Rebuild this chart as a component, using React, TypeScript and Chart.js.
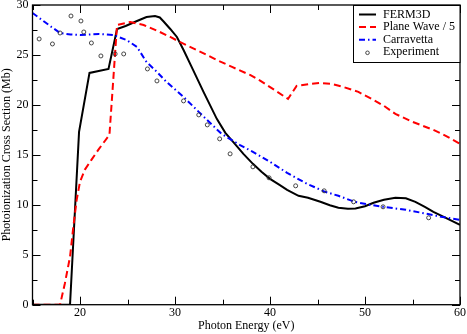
import React, { useEffect, useRef } from 'react';
import { Chart, registerables } from 'chart.js';

Chart.register(...registerables);

const FONT = '"Liberation Serif", "Times New Roman", serif';

// FERM3D
const fermEnergy = [15, 18.95, 19.9, 21, 23, 23.9, 24.8, 26, 27, 27.9, 28.4, 28.8, 29.5, 30.2, 30.9, 31.9, 33, 34.4, 35.3, 36.3, 37.2, 38.2, 39.1, 40, 41, 41.8, 43, 44, 45.3, 46.3, 47.2, 48.2, 49, 50, 50.9, 52, 53.2, 54.3, 55.3, 56.3, 57.2, 58.5, 60];
const fermCross = [0, 0, 17.3, 23.2, 23.6, 27.6, 27.9, 28.4, 28.8, 28.9, 28.75, 28.35, 27.6, 26.8, 25.5, 23.5, 21.3, 18.6, 17.2, 16.1, 15.1, 14.1, 13.3, 12.6, 12.0, 11.5, 10.9, 10.7, 10.3, 9.95, 9.7, 9.6, 9.62, 9.85, 10.2, 10.5, 10.7, 10.65, 10.3, 9.8, 9.3, 8.7, 8.0];

// Plane Wave / 5
const pwEnergy = [15, 17.9, 18.4, 18.95, 19.3, 19.65, 20, 20.5, 21.2, 22, 23.1, 23.9, 25.3, 26.7, 28.4, 29.5, 30.5, 32.5, 34.4, 36, 37.9, 39, 40.3, 41.9, 42.8, 44.2, 45.3, 46.5, 47.7, 49.3, 50.9, 52, 53.2, 55, 57.2, 58.5, 60];
const pwCross = [0, 0, 2.1, 4.8, 7.8, 10.5, 12.3, 13.5, 14.5, 15.6, 17.0, 28.0, 28.3, 28.0, 27.3, 26.8, 26.3, 25.4, 24.5, 23.8, 23.0, 22.4, 21.6, 20.6, 21.9, 22.1, 22.2, 22.1, 21.8, 21.3, 20.5, 19.9, 19.1, 18.3, 17.5, 16.9, 16.1];

// Carravetta
const carEnergy = [15, 16, 17, 17.9, 19, 20, 22, 23.5, 24.9, 26, 27, 28.1, 29.1, 30.9, 32.5, 34.9, 36.8, 38.2, 40, 41.8, 43.9, 45.8, 47.2, 48.9, 50.5, 51.9, 54.3, 56.5, 58, 60];
const carCross = [29.2, 28.5, 27.8, 27.2, 27.05, 27.0, 27.1, 27.0, 26.5, 25.8, 24.3, 23.3, 22.3, 20.8, 19.3, 17.1, 16.0, 15.3, 14.3, 13.2, 12.1, 11.3, 10.9, 10.3, 10.0, 9.8, 9.5, 9.1, 8.8, 8.5];

// Experiment
const expEnergy = [15.7, 17.1, 17.9, 19.05, 20.1, 20.4, 21.2, 22.2, 23.7, 24.6, 27.1, 28.1, 30.9, 32.5, 33.4, 34.7, 35.8, 38.2, 39.9, 42.7, 45.7, 48.8, 51.9, 56.7];
const expCross = [26.6, 26.1, 27.2, 28.9, 28.4, 27.3, 26.2, 24.9, 25.1, 25.1, 23.6, 22.4, 20.4, 19.0, 18.0, 16.6, 15.1, 13.8, 12.7, 11.9, 11.4, 10.3, 9.8, 8.7];

const labels = ['FERM3D', 'Plane Wave / 5', 'Carravetta', 'Experiment'];
const xTitle = 'Photon Energy (eV)';
const yTitle = 'Photoionization Cross Section (Mb)';
const xRange = [15, 60];
const yRange = [0, 30];

const zip = (xs: number[], ys: number[]) => xs.map((x, i) => ({ x, y: ys[i] }));

const frameTicks = {
  id: 'frameTicks',
  afterDatasetsDraw(chart: any) {
    const { ctx, chartArea: a, scales } = chart;
    const xs = scales.x;
    const ys = scales.y;
    ctx.save();
    ctx.strokeStyle = '#000';
    ctx.lineWidth = 1;
    const seg = (x1: number, y1: number, x2: number, y2: number) => {
      ctx.beginPath();
      ctx.moveTo(x1, y1);
      ctx.lineTo(x2, y2);
      ctx.stroke();
    };
    xs.ticks.forEach((t: any) => {
      const p = Math.round(xs.getPixelForValue(t.value)) + 0.5;
      const len = t.value % 10 === 0 ? 8 : 5;
      seg(p, a.bottom, p, a.bottom - len);
      seg(p, a.top, p, a.top + len);
    });
    ys.ticks.forEach((t: any) => {
      const p = Math.round(ys.getPixelForValue(t.value)) + 0.5;
      const len = t.value % 5 === 0 ? 8 : 5;
      seg(a.left, p, a.left + len, p);
      seg(a.right, p, a.right - len, p);
    });
    ctx.lineWidth = 1.3;
    ctx.strokeRect(a.left, a.top, a.right - a.left, a.bottom - a.top);
    ctx.restore();
  },
  afterDraw(chart: any) {
    const { ctx, chartArea: a } = chart;
    const left = 353;
    const top = a.top;
    const right = a.right;
    const bottom = 62;
    ctx.save();
    ctx.fillStyle = '#fff';
    ctx.fillRect(left, top, right - left, bottom - top);
    ctx.strokeStyle = '#000';
    ctx.lineWidth = 1;
    ctx.strokeRect(left + 0.5, top + 0.5, right - left - 0.5, bottom - top);
    ctx.font = `12px ${FONT}`;
    ctx.textBaseline = 'middle';
    ctx.textAlign = 'left';
    chart.data.datasets.forEach((ds: any, i: number) => {
      const y = top + 9.5 + i * 12.6;
      if (ds.showLine === false) {
        ctx.beginPath();
        ctx.setLineDash([]);
        ctx.lineWidth = 0.9;
        ctx.strokeStyle = ds.borderColor;
        ctx.arc(367.5, y + 0.5, 1.8, 0, Math.PI * 2);
        ctx.stroke();
      } else {
        ctx.beginPath();
        ctx.setLineDash(ds.borderDash || []);
        ctx.lineWidth = ds.borderWidth;
        ctx.strokeStyle = ds.borderColor;
        ctx.moveTo(359, y);
        ctx.lineTo(376, y);
        ctx.stroke();
      }
      ctx.setLineDash([]);
      ctx.fillStyle = '#000';
      ctx.fillText(ds.label, 383, y);
    });
    ctx.restore();
  },
};

export default function App() {
  const ref = useRef<HTMLCanvasElement | null>(null);
  useEffect(() => {
    if (!ref.current) return;
    const chart = new Chart(ref.current, {
      type: 'scatter',
      data: {
        datasets: [
          {
            label: labels[0],
            data: zip(fermEnergy, fermCross),
            showLine: true,
            borderColor: '#000000',
            backgroundColor: '#000000',
            borderWidth: 2,
            pointRadius: 0,
            tension: 0,
            order: 4,
          },
          {
            label: labels[1],
            data: zip(pwEnergy, pwCross),
            showLine: true,
            borderColor: '#ff0000',
            backgroundColor: '#ff0000',
            borderWidth: 2,
            borderDash: [7, 4],
            pointRadius: 0,
            tension: 0,
            order: 3,
          },
          {
            label: labels[2],
            data: zip(carEnergy, carCross),
            showLine: true,
            borderColor: '#0000ff',
            backgroundColor: '#0000ff',
            borderWidth: 2,
            borderDash: [6, 3, 1.5, 3],
            pointRadius: 0,
            tension: 0,
            order: 2,
          },
          {
            label: labels[3],
            data: zip(expEnergy, expCross),
            showLine: false,
            borderColor: '#333333',
            backgroundColor: 'rgba(0,0,0,0)',
            borderWidth: 0.9,
            pointRadius: 2,
            pointStyle: 'circle',
            order: 1,
          },
        ],
      } as any,
      options: {
        animation: false,
        responsive: false,
        devicePixelRatio: 1,
        layout: { padding: { top: 5, right: 7, left: 0, bottom: 0 } },
        plugins: { legend: { display: false }, tooltip: { enabled: false } },
        scales: {
          x: {
            type: 'linear',
            min: xRange[0],
            max: xRange[1],
            position: 'bottom',
            afterFit: (s: any) => {
              s.height = 29.3;
              s.paddingLeft = 0;
              s.paddingRight = 0;
            },
            ticks: {
              stepSize: 5,
              autoSkip: false,
              maxRotation: 0,
              color: '#000',
              padding: 1,
              font: { family: FONT, size: 12 },
              callback: (v: any) => (v % 10 === 0 ? String(v) : ''),
            },
            grid: { display: false, drawTicks: false },
            border: { display: false },
            title: {
              display: true,
              text: xTitle,
              color: '#000',
              font: { family: FONT, size: 12 },
              padding: { top: 0, bottom: 1 },
            },
          },
          y: {
            type: 'linear',
            min: yRange[0],
            max: yRange[1],
            afterFit: (s: any) => {
              s.width = 32.5;
              s.paddingTop = 0;
              s.paddingBottom = 0;
            },
            ticks: {
              stepSize: 2.5,
              autoSkip: false,
              color: '#000',
              padding: 4,
              font: { family: FONT, size: 12 },
              callback: (v: any) => (v % 5 === 0 ? String(v) : ''),
            },
            grid: { display: false, drawTicks: false },
            border: { display: false },
            title: {
              display: true,
              text: yTitle,
              color: '#000',
              font: { family: FONT, size: 12 },
              padding: { top: 0, bottom: 0 },
            },
          },
        },
      } as any,
      plugins: [frameTicks],
    });
    return () => chart.destroy();
  }, []);
  return (
    <div style={{ position: 'fixed', left: 0, top: 0, width: 467, height: 334, background: '#fff' }}>
      <canvas ref={ref} width={467} height={334} style={{ display: 'block' }} />
    </div>
  );
}
